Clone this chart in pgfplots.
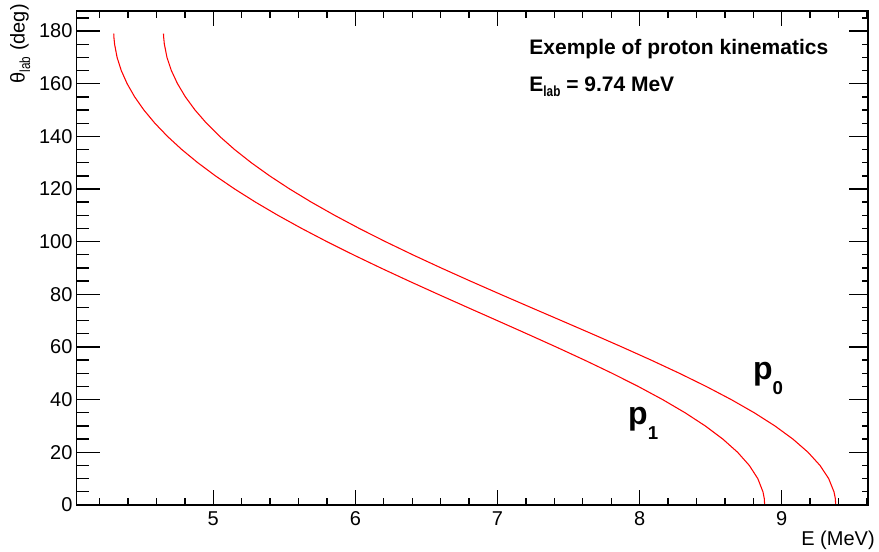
\documentclass[border=0pt]{standalone}
\usepackage{fontspec}
\setmainfont{Liberation Sans}
\usepackage{pgfplots}
\pgfplotsset{compat=1.18}
\pgfplotsset{common/.style={
  scale only axis, width=593.5pt, height=370.5pt,
  xmin=4.0387, xmax=9.607, ymin=0, ymax=187.6,
  axis line style={line width=1pt, black},
  tick style={line width=1pt, black},
  tick align=inside,
  at={(0,0)}, anchor=south west,
  /pgf/number format/assume math mode=true,
  tick label style={font=\fontsize{15}{15}\selectfont, inner sep=0pt},
}}
\begin{document}
\begin{tikzpicture}
\useasboundingbox (-57.5pt,-35.25pt) rectangle (601.75pt,378.75pt);
% main axis: curves, x ticks
\begin{axis}[common,
  xtick={5,6,7,8,9}, minor xtick={4.2,4.4,...,9.6},
  major tick length=11.25pt, minor tick length=5.25pt,
  ytick=\empty,
  xticklabel style={yshift=-5pt},
  xlabel={E (MeV)},
  xlabel style={at={(axis description cs:1.0088,-0.0526)}, anchor=north east, inner sep=0pt, font=\fontsize{15}{15}\selectfont},
]
\addplot[red, line width=0.8pt] coordinates {
(9.3800,0)(9.3769,2.5)(9.3676,5)(9.3306,10)(9.2696,15)(9.1854,20)(9.0793,25)(8.9527,30)(8.8075,35)(8.6456,40)(8.4692,45)(8.2805,50)(8.0820,55)(7.8758,60)(7.6645,65)(7.4502,70)(7.2350,75)(7.0211,80)(6.8102,85)(6.6040,90)(6.4041,95)(6.2117,100)(6.0280,105)(5.8540,110)(5.6902,115)(5.5376,120)(5.3963,125)(5.2669,130)(5.1496,135)(5.0445,140)(4.9518,145)(4.8714,150)(4.8036,155)(4.7481,160)(4.7049,165)(4.6741,170)(4.6557,175)(4.6511,177.5)(4.6496,179)
};
\addplot[red, line width=0.8pt] coordinates {
(8.8800,0)(8.8770,2.5)(8.8679,5)(8.8318,10)(8.7721,15)(8.6898,20)(8.5861,25)(8.4625,30)(8.3207,35)(8.1628,40)(7.9907,45)(7.8069,50)(7.6135,55)(7.4129,60)(7.2074,65)(6.9992,70)(6.7904,75)(6.5828,80)(6.3785,85)(6.1790,90)(5.9857,95)(5.7999,100)(5.6227,105)(5.4550,110)(5.2974,115)(5.1505,120)(5.0147,125)(4.8906,130)(4.7780,135)(4.6774,140)(4.5886,145)(4.5116,150)(4.4467,155)(4.3937,160)(4.3524,165)(4.3230,170)(4.3055,175)(4.3010,177.5)(4.2997,179)
};
\node[anchor=base west, inner sep=0pt, font=\bfseries\fontsize{15.75}{15.75}\selectfont] at (axis cs:7.223,171.2) {Exemple of proton kinematics};
\node[anchor=base west, inner sep=0pt, font=\bfseries\fontsize{15.75}{15.75}\selectfont] at (axis cs:7.223,157.2) {E\raisebox{-4pt}{\scalebox{0.8}[1]{\fontsize{11}{11}\selectfont lab}} = 9.74 MeV};
\node[anchor=base west, inner sep=0pt, font=\bfseries\fontsize{24}{24}\selectfont] at (axis cs:8.797,47.5) {p\raisebox{-10.9pt}{\fontsize{14}{14}\selectfont 0}};
\node[anchor=base west, inner sep=0pt, font=\bfseries\fontsize{24}{24}\selectfont] at (axis cs:7.918,30.5) {p\raisebox{-10.9pt}{\fontsize{14}{14}\selectfont 1}};
\end{axis}
% left y ticks and labels
\begin{axis}[common,
  xtick=\empty,
  ytick={0,20,...,180}, minor ytick={5,10,...,185},
  ytick pos=left,
  major tick length=17.6pt, minor tick length=9pt,
  yticklabel style={xshift=-3pt},
  ylabel={θ\raisebox{-4pt}{\scalebox{0.8}[1]{\fontsize{11}{11}\selectfont lab}} (deg)},
  ylabel style={at={(axis description cs:-0.0584,1.0142)}, anchor=south east, inner sep=0pt, font=\fontsize{15}{15}\selectfont},
]
\end{axis}
% right y ticks
\begin{axis}[common,
  xtick=\empty,
  ytick={0,20,...,180}, minor ytick={5,10,...,185},
  ytick pos=right, yticklabels={},
  major tick length=14pt, minor tick length=4.75pt,
]
\end{axis}
\end{tikzpicture}
\end{document}
